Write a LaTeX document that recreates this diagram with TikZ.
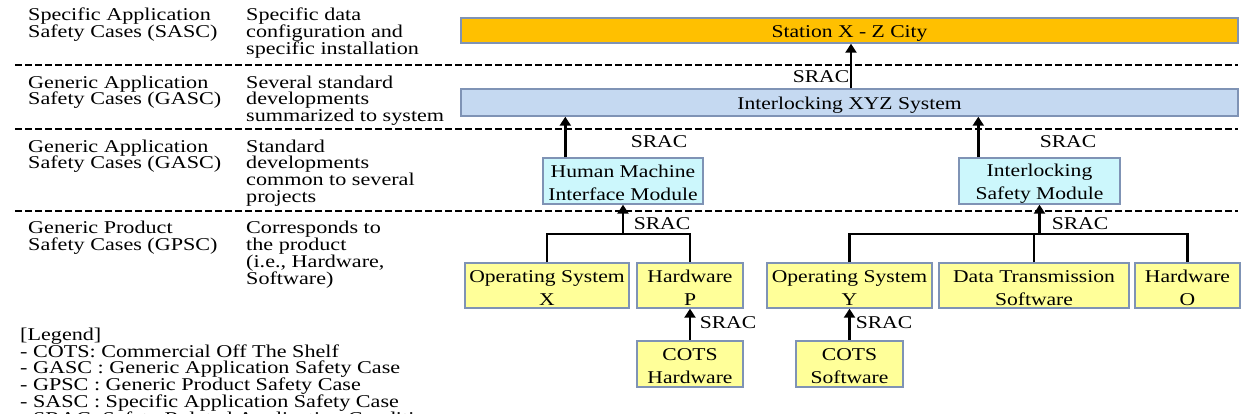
\documentclass[tikz,border=0pt]{standalone}
\usepackage{fontspec}
\setmainfont{Liberation Serif}[FakeStretch=1.2]
\newfontfamily\leftfam{Liberation Serif}[FakeStretch=1.23]
\usetikzlibrary{arrows.meta,calc}
\definecolor{orangefill}{HTML}{FFC000}
\definecolor{bluefill}{HTML}{C5D9F1}
\definecolor{cyanfill}{HTML}{CCF7FC}
\definecolor{yellowfill}{HTML}{FFFF99}
\definecolor{boxline}{HTML}{7F93B5}
\newcommand{\firststrut}{\rule{0pt}{12.5pt}}
\newcommand{\boxstrut}{\rule{0pt}{17pt}}
\newcommand{\leftfontsel}{\leftfam\fontsize{18}{16.8}\selectfont\lineskiplimit-20pt\relax}
\newcommand{\boxfontsel}{\fontsize{18}{23}\selectfont\lineskiplimit-20pt\relax}
\tikzset{
  lefttext/.style={anchor=north west, inner sep=0pt, align=left, font=\leftfontsel},
  boxbase/.style={draw=boxline, line width=1.4pt, inner sep=0pt, align=center, font=\boxfontsel},
  wide/.style={boxbase, minimum width=777pt},
  stbox/.style={wide, fill=orangefill, minimum height=25pt},
  sysbox/.style={wide, fill=bluefill, minimum height=27pt},
  modbox/.style={boxbase, fill=cyanfill, minimum height=46pt},
  prodbox/.style={boxbase, fill=yellowfill, minimum height=45pt},
  srac/.style={inner sep=0pt, font=\fontsize{18}{20}\selectfont},
  conn/.style={line width=2.5pt, black},
  arr/.style={conn, -{Triangle[length=9pt,width=11pt]}},
  dashline/.style={line width=2.3pt, dash pattern=on 7pt off 3pt}
}
\begin{document}
\begin{tikzpicture}[x=1pt,y=-1pt]
\useasboundingbox (0,0) rectangle (1253,414);
\clip (0,0) rectangle (1253,414);
% level separators
\draw[dashline] (15,65) -- (1238,65);
\draw[dashline] (15,129) -- (1238,129);
\draw[dashline] (15,211) -- (1238,211);
% left column texts
\node[lefttext] (l1a) at (28,8) {\firststrut Specific Application\\Safety Cases (SASC)};
\node[lefttext] (l1b) at (246,8) {\firststrut Specific data\\configuration and\\specific installation};
\node[lefttext] (l2a) at (28,75.5) {\firststrut Generic Application\\Safety Cases (GASC)};
\node[lefttext] (l2b) at (246,75.5) {\firststrut Several standard\\developments\\summarized to system};
\node[lefttext] (l3a) at (28,139.5) {\firststrut Generic Application\\Safety Cases (GASC)};
\node[lefttext] (l3b) at (246,139.5) {\firststrut Standard\\developments\\common to several\\projects};
\node[lefttext] (l4a) at (28,221) {\firststrut Generic Product\\Safety Cases (GPSC)};
\node[lefttext] (l4b) at (246,221) {\firststrut Corresponds to\\the product\\(i.e., Hardware,\\Software)};
\node[lefttext] (legend) at (20,327.5) {\firststrut [Legend]\\- COTS: Commercial Off The Shelf\\- GASC : Generic Application Safety Case\\- GPSC : Generic Product Safety Case\\- SASC : Specific Application Safety Case\\- SRAC: Safety Related Application Conditions};
% boxes
\node[stbox] (station) at (849.5,30.5) {\boxstrut Station X - Z City};
\node[sysbox] (xyz) at (849.5,102.5) {\boxstrut Interlocking XYZ System};
\node[modbox, minimum width=160pt] (hmi) at (623,181) {\boxstrut Human Machine\\Interface Module};
\node[modbox, minimum width=161pt] (ism) at (1039.5,181) {\boxstrut Interlocking\\Safety Module};
\node[prodbox, minimum width=164pt] (osx) at (547,285.5) {\boxstrut Operating System\\X};
\node[prodbox, minimum width=106pt] (hwp) at (690,285.5) {\boxstrut Hardware\\P};
\node[prodbox, minimum width=165pt] (osy) at (849.5,285.5) {\boxstrut Operating System\\Y};
\node[prodbox, minimum width=190pt] (dts) at (1034,285.5) {\boxstrut Data Transmission\\Software};
\node[prodbox, minimum width=105pt] (hwo) at (1187.5,285.5) {\boxstrut Hardware\\O};
\node[prodbox, minimum width=106pt, minimum height=46pt] (cotsh) at (690,364) {\boxstrut COTS\\Hardware};
\node[prodbox, minimum width=107pt, minimum height=46pt] (cotss) at (849.5,364) {\boxstrut COTS\\Software};
% connectors
\draw[arr] ([xshift=1.5pt]xyz.north) -- ([xshift=1.5pt]station.south);
\coordinate (hmitop) at ([xshift=23pt]hmi.north west);
\coordinate (ismtop) at ([xshift=20pt]ism.north west);
\draw[arr] (hmitop) -- (hmitop |- xyz.south);
\draw[arr] (ismtop) -- (ismtop |- xyz.south);
\coordinate (j1) at (623,234);
\coordinate (j2) at (1039.5,234);
\draw[conn] (osx.north) |- (j1) -| (hwp.north);
\draw[arr] ([yshift=1.2pt]j1) -- (hmi.south);
\draw[conn] (osy.north) |- (j2) -| (hwo.north);
\draw[conn] (dts.north) -- (dts.north |- j2);
\draw[arr] ([yshift=1.2pt]j2) -- (ism.south);
\draw[arr] (cotsh.north) -- (hwp.south);
\draw[arr] (cotss.north) -- (osy.south);
% SRAC labels
\node[srac] (s1) at (821,77) {SRAC};
\node[srac] (s2) at (659,142) {SRAC};
\node[srac] (s3) at (1068,142) {SRAC};
\node[srac] (s4) at (662,224) {SRAC};
\node[srac] (s5) at (1080,224) {SRAC};
\node[srac] (s6) at (728,323) {SRAC};
\node[srac] (s7) at (884,323) {SRAC};
\end{tikzpicture}
\end{document}
